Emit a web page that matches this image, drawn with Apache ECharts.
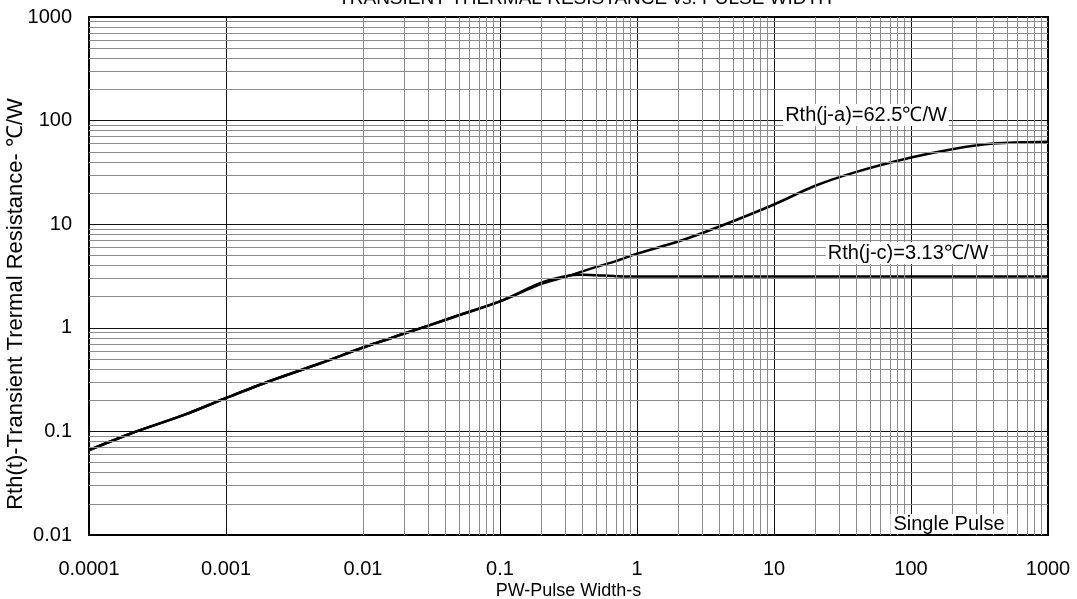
<!DOCTYPE html>
<html>
<head>
<meta charset="utf-8">
<script src="https://cdn.jsdelivr.net/npm/echarts@6/dist/echarts.min.js"></script>
<style>
  html, body { margin: 0; padding: 0; background: #fff; }
  #graph { width: 1077px; height: 599px; }
</style>
</head>
<body>
<div id="graph"></div>
<script>
// Rth(j-a) curve
const pwJa = [0.0001, 0.0002, 0.0005, 0.001, 0.002, 0.005, 0.01, 0.02, 0.03, 0.05, 0.1, 0.2, 0.3, 0.5, 0.7, 1, 2, 4, 10, 20, 40, 100, 200, 400, 1000];
const rthJa = [0.066, 0.095, 0.145, 0.21, 0.30, 0.46, 0.645, 0.88, 1.05, 1.32, 1.8, 2.65, 3.1, 3.85, 4.4, 5.2, 6.8, 9.5, 15.5, 23.5, 32, 44, 53, 60, 62.5];
// Rth(j-c) curve
const pwJc = [0.0001, 0.0002, 0.0005, 0.001, 0.002, 0.005, 0.01, 0.02, 0.03, 0.05, 0.1, 0.2, 0.3, 0.4, 0.5, 0.7, 1, 10, 100, 1000];
const rthJc = [0.066, 0.095, 0.145, 0.21, 0.30, 0.46, 0.645, 0.88, 1.05, 1.32, 1.8, 2.72, 3.15, 3.25, 3.22, 3.15, 3.13, 3.13, 3.13, 3.13];

const xDecades = [-4, -3, -2, -1, 0, 1, 2];
const yDecades = [-2, -1, 0, 1, 2];

function minorValues(decades) {
    const out = [];
    decades.forEach((d) => {
        for (let k = 2; k <= 9; k++) out.push(Number((k * Math.pow(10, d)).toPrecision(3)));
    });
    return out;
}

function pairs(xs, ys) {
    return xs.map((x, i) => [x, ys[i]]);
}

const font = '"Liberation Sans", Arial, sans-serif';
const fmt = (v) => String(Number(Number(v).toPrecision(3)));

const minorLines = minorValues(xDecades).map((v) => ({ xAxis: v }))
    .concat(minorValues(yDecades).map((v) => ({ yAxis: v })));

const container = document.getElementById('graph');
const myChart = echarts.init(container);
myChart.setOption({
    animation: false,
    grid: {
        left: 89,
        right: 29,
        top: 17,
        bottom: 64,
        containLabel: false,
        outerBoundsMode: 'none',
        show: true,
        borderColor: '#000',
        borderWidth: 2,
        z: 5
    },
    xAxis: {
        type: 'log',
        logBase: 10,
        min: 0.0001,
        max: 1000,
        splitNumber: 7,
        name: 'PW-Pulse Width-s',
        nameLocation: 'middle',
        nameGap: 47,
        nameMoveOverlap: false,
        nameTextStyle: { fontSize: 18, color: '#000', fontFamily: font },
        axisLine: { show: false },
        axisTick: { show: false },
        axisLabel: {
            fontSize: 20, color: '#000', fontFamily: font, margin: 24,
            formatter: fmt, showMinLabel: true, showMaxLabel: true, hideOverlap: false
        },
        splitLine: { show: true, lineStyle: { color: '#111', width: 1 } }
    },
    yAxis: {
        type: 'log',
        logBase: 10,
        min: 0.01,
        max: 1000,
        splitNumber: 5,
        name: 'Rth(t)-Transient Trermal Resistance- ℃/W',
        nameLocation: 'middle',
        nameGap: 62,
        nameMoveOverlap: false,
        nameTextStyle: { fontSize: 22, color: '#000', fontFamily: font, padding: [0, 56, 0, 0] },
        axisLine: { show: false },
        axisTick: { show: false },
        axisLabel: {
            fontSize: 20, color: '#000', fontFamily: font, margin: 17,
            formatter: fmt, showMinLabel: true, showMaxLabel: true
        },
        splitLine: { show: true, lineStyle: { color: '#111', width: 1 } }
    },
    graphic: [
        {
            type: 'text', x: 585, y: -1, z: 10,
            style: { text: 'TRANSIENT THERMAL RESISTANCE vs. PULSE WIDTH', font: '19px ' + font, fill: '#000', textAlign: 'center', textVerticalAlign: 'middle' }
        },
        {
            type: 'text', x: 866, y: 115, z: 10,
            style: { text: 'Rth(j-a)=62.5℃/W', font: '20px ' + font, fill: '#000', textAlign: 'center', textVerticalAlign: 'middle', backgroundColor: '#fff', padding: [1, 2] }
        },
        {
            type: 'text', x: 908, y: 253, z: 10,
            style: { text: 'Rth(j-c)=3.13℃/W', font: '20px ' + font, fill: '#000', textAlign: 'center', textVerticalAlign: 'middle', backgroundColor: '#fff', padding: [1, 2] }
        },
        {
            type: 'text', x: 949, y: 524, z: 10,
            style: { text: 'Single Pulse', font: '20px ' + font, fill: '#000', textAlign: 'center', textVerticalAlign: 'middle', backgroundColor: '#fff', padding: [0, 3] }
        }
    ],
    series: [
        {
            name: 'grid',
            type: 'line',
            data: [],
            z: 1,
            silent: true,
            markLine: {
                silent: true,
                symbol: ['none', 'none'],
                label: { show: false },
                emphasis: { disabled: true },
                lineStyle: { color: '#8c8c8c', width: 1, type: 'solid' },
                data: minorLines
            }
        },
        {
            name: 'Rth(j-c)',
            type: 'line',
            z: 3,
            showSymbol: false,
            smooth: 0.3,
            lineStyle: { color: '#000', width: 2.5 },
            data: pairs(pwJc, rthJc)
        },
        {
            name: 'Rth(j-a)',
            type: 'line',
            z: 3,
            showSymbol: false,
            smooth: 0.3,
            lineStyle: { color: '#000', width: 2.5 },
            data: pairs(pwJa, rthJa)
        }
    ]
});
</script>
</body>
</html>
